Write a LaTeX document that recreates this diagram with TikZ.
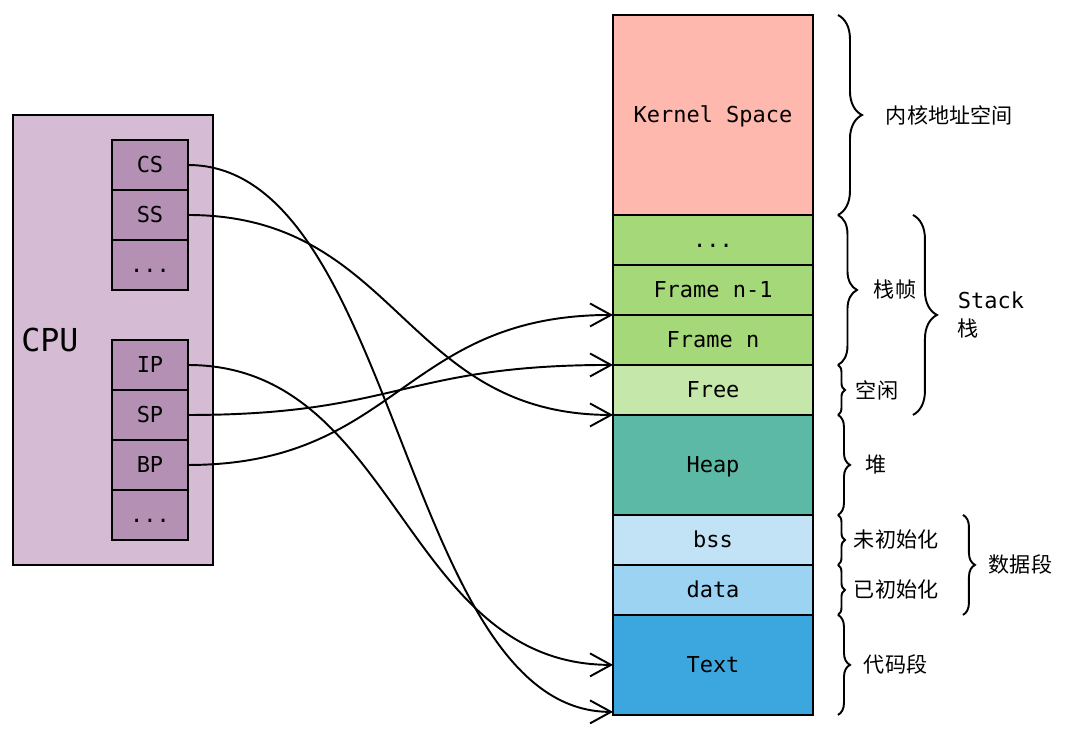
\documentclass[tikz,border=0pt]{standalone}
\usepackage{fontspec}
\setmainfont{DejaVu Sans}
\setmonofont{DejaVu Sans Mono}
\newfontfamily\cjk{Noto Sans CJK SC}
\usetikzlibrary{positioning, arrows.meta, decorations.pathreplacing}
\definecolor{cpupurple}{HTML}{D5BCD4}
\definecolor{regpurple}{HTML}{B490B4}
\definecolor{kernelred}{HTML}{FFB8AE}
\definecolor{framegreen}{HTML}{A5D878}
\definecolor{freegreen}{HTML}{C6E7AA}
\definecolor{heapteal}{HTML}{5CB9A5}
\definecolor{bssblue}{HTML}{C2E3F5}
\definecolor{datablue}{HTML}{9CD2F2}
\definecolor{textblue}{HTML}{3CA7DE}
\tikzstyle{base} = [draw=black, line width=1.3pt, outer sep=0pt, inner sep=0pt, text centered,
 text height=0.95em, text depth=0.1em, font=\ttfamily\fontsize{12.5}{15}\selectfont]
\tikzstyle{mem} = [base, rectangle, minimum width=4cm, minimum height=1cm]
\tikzstyle{reg} = [base, rectangle, minimum width=1.52cm, minimum height=1cm, fill=regpurple]
\tikzstyle{arrow} = [line width=1.1pt, -{Straight Barb[length=0.42cm, width=0.46cm]}]
\tikzstyle{brace} = [line width=1.1pt, decorate, decoration={brace, amplitude=0.24cm}]
\tikzstyle{lbl} = [inner sep=0pt, font=\cjk\fontsize{12}{16}\selectfont]

\begin{document}
\begin{tikzpicture}[x=0.02cm, y=-0.02cm]
\useasboundingbox (0,0) rectangle (1080,740);

% CPU and its registers
\node (cpu) [base, minimum width=4cm, minimum height=9cm, fill=cpupurple] at (113,340) {};
\node (cpulabel) [anchor=west, inner sep=0pt, font=\ttfamily\fontsize{18}{20}\selectfont]
    at ([xshift=0.16cm]cpu.west) {CPU};

\node (cs) [reg] at (150,165) {CS};
\node (ss) [reg, below=0pt of cs] {SS};
\node (segdots) [reg, below=0pt of ss] {...};

\node (ip) [reg] at (150,365) {IP};
\node (sp) [reg, below=0pt of ip] {SP};
\node (bp) [reg, below=0pt of sp] {BP};
\node (ptrdots) [reg, below=0pt of bp] {...};

% Memory layout
\node (kernel) [mem, minimum height=4cm, fill=kernelred] at (713,115) {Kernel Space};
\node (frmdots) [mem, below=0pt of kernel, fill=framegreen] {...};
\node (frm1) [mem, below=0pt of frmdots, fill=framegreen] {Frame n-1};
\node (frmn) [mem, below=0pt of frm1, fill=framegreen] {Frame n};
\node (free) [mem, below=0pt of frmn, fill=freegreen] {Free};
\node (heap) [mem, minimum height=2cm, below=0pt of free, fill=heapteal] {Heap};
\node (bss) [mem, below=0pt of heap, fill=bssblue] {bss};
\node (data) [mem, below=0pt of bss, fill=datablue] {data};
\node (textseg) [mem, minimum height=2cm, below=0pt of data, fill=textblue] {Text};

% Arrows
\draw[arrow] (cs.east) .. controls +(4.2cm,0) and +(-4.2cm,0) .. ([yshift=0.06cm]textseg.south west);
\draw[arrow] (ss.east) .. controls +(4.2cm,0) and +(-4.2cm,0) .. (free.south west);
\draw[arrow] (ip.east) .. controls +(4.2cm,0) and +(-4.2cm,0) .. (textseg.west);
\draw[arrow] (sp.east) .. controls +(4.2cm,0) and +(-4.2cm,0) .. (free.north west);
\draw[arrow] (bp.east) .. controls +(4.2cm,0) and +(-4.2cm,0) .. (frmn.north west);

% Braces
\draw[brace, decoration={amplitude=0.48cm}] ([xshift=0.5cm]kernel.north east) --
    ([xshift=0.5cm]kernel.south east) node[lbl, midway, right=0.94cm] {内核地址空间};
\draw[brace, decoration={amplitude=0.38cm}] ([xshift=0.5cm]frmdots.north east) --
    ([xshift=0.5cm]frmn.south east) node[lbl, midway, right=0.7cm] {栈帧};
\draw[brace, decoration={amplitude=0.14cm}] ([xshift=0.5cm]free.north east) --
    ([xshift=0.5cm]free.south east) node[lbl, midway, right=0.34cm] {空闲};
\draw[brace] ([xshift=0.5cm]heap.north east) --
    ([xshift=0.5cm]heap.south east) node[lbl, midway, right=0.54cm] {堆};
\draw[brace, decoration={amplitude=0.14cm}] ([xshift=0.5cm]bss.north east) --
    ([xshift=0.5cm]bss.south east) node[lbl, midway, right=0.3cm] {未初始化};
\draw[brace, decoration={amplitude=0.14cm}] ([xshift=0.5cm]data.north east) --
    ([xshift=0.5cm]data.south east) node[lbl, midway, right=0.3cm] {已初始化};
\draw[brace] ([xshift=0.5cm]textseg.north east) --
    ([xshift=0.5cm]textseg.south east) node[lbl, midway, right=0.5cm] {代码段};

\draw[brace, decoration={amplitude=0.48cm}] ([xshift=2cm]frmdots.north east) --
    ([xshift=2cm]free.south east) node[lbl, midway, right=0.88cm, align=left]
    {{\ttfamily\fontsize{12.5}{15}\selectfont Stack}\\栈};
\draw[brace] ([xshift=3cm]bss.north east) --
    ([xshift=3cm]data.south east) node[lbl, midway, right=0.5cm] {数据段};

\end{tikzpicture}
\end{document}
